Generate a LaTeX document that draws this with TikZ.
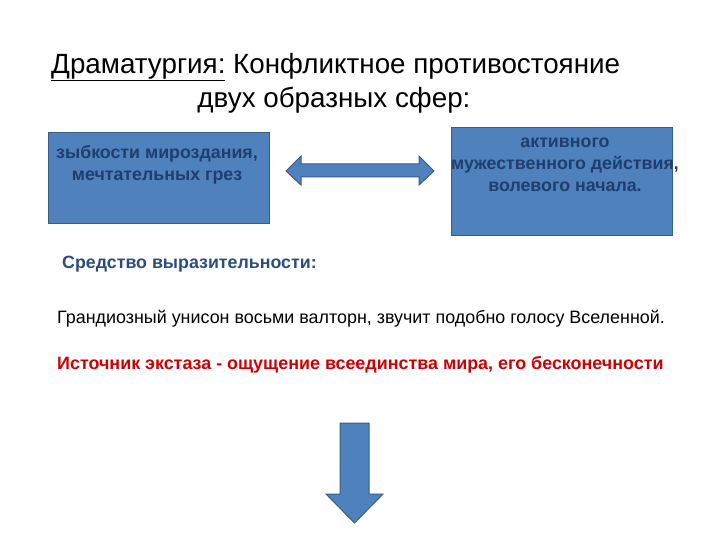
\documentclass[tikz,border=0pt]{standalone}
\usepackage{fontspec}
\setmainfont{Liberation Sans}
\usetikzlibrary{shapes.arrows}
\definecolor{boxfill}{HTML}{4F81BD}
\definecolor{boxline}{HTML}{385D8A}
\definecolor{boxtext}{HTML}{1F3E6E}
\definecolor{headblue}{HTML}{2A4D7C}
\definecolor{redtext}{HTML}{D00000}
\begin{document}
\begin{tikzpicture}[x=1pt,y=-1pt,
  box/.style={draw=boxline,fill=boxfill,line width=1pt},
  boxlabel/.style={font=\bfseries\fontsize{17.8}{22}\selectfont,text=boxtext,align=center,inner sep=0pt},
  arrowshape/.style={draw=boxline,fill=boxfill,line width=1pt,line join=miter}]
\useasboundingbox (0,0) rectangle (720,540);
\draw[box] (48,133) rectangle (269,224);
\draw[box] (451,128) rectangle (672,235);
\node[boxlabel] (ltext) at (157,165) {зыбкости мироздания,\\мечтательных грез};
\node[boxlabel] (rtext) at (565,165) {активного\\мужественного действия,\\волевого начала.};
\node[font=\fontsize{27.8}{32}\selectfont,anchor=west,inner sep=0pt] (title) at (51,67) {\underline{Драматургия:} Конфликтное противостояние};
\node[font=\fontsize{27.8}{32}\selectfont,inner sep=0pt] (title2) at (334,100) {двух образных сфер:};
\node[font=\bfseries\fontsize{17.8}{20}\selectfont,text=headblue,anchor=west,inner sep=0pt] (means) at (62,264) {Средство выразительности:};
\node[font=\fontsize{17.9}{20}\selectfont,anchor=west,inner sep=0pt] (desc) at (57,319) {Грандиозный унисон восьми валторн, звучит подобно голосу Вселенной.};
\node[font=\bfseries\fontsize{17.9}{20}\selectfont,text=redtext,anchor=west,inner sep=0pt] (src) at (57,365) {Источник экстаза - ощущение всеединства мира, его бесконечности};
% double arrow
\draw[arrowshape] (286,171) -- (301,156) -- (301,164) -- (419,164) -- (419,156) -- (434,171) -- (419,185) -- (419,177) -- (301,177) -- (301,185) -- cycle;
% down arrow
\draw[arrowshape] (340,423) -- (369,423) -- (369,494) -- (383,494) -- (354.5,523) -- (326,494) -- (340,494) -- cycle;
\end{tikzpicture}
\end{document}
